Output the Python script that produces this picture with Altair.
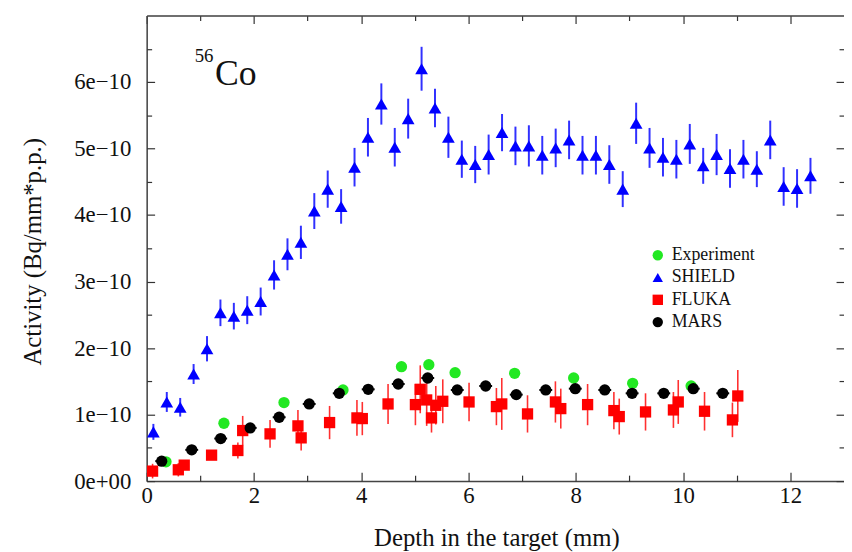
import altair as alt
import pandas as pd

SCALE = 1e-10
FONT = "Liberation Serif"
TXT = "#111111"

# ---------------- data (activity values in units of 1e-10) ----------------
shield_x = [0.125, 0.375, 0.625, 0.875, 1.125, 1.375, 1.625, 1.875, 2.125, 2.375,
            2.625, 2.875, 3.125, 3.375, 3.625, 3.875, 4.125, 4.375, 4.625, 4.875,
            5.125, 5.375, 5.625, 5.875, 6.125, 6.375, 6.625, 6.875, 7.125, 7.375,
            7.625, 7.875, 8.125, 8.375, 8.625, 8.875, 9.125, 9.375, 9.625, 9.875,
            10.125, 10.375, 10.625, 10.875, 11.125, 11.375, 11.625, 11.875, 12.125, 12.375]
shield_y = [0.74, 1.19, 1.11, 1.61, 1.99, 2.53, 2.48, 2.57, 2.70, 3.10,
            3.41, 3.59, 4.06, 4.39, 4.13, 4.72, 5.17, 5.67, 5.02, 5.45,
            6.20, 5.61, 5.17, 4.84, 4.76, 4.91, 5.24, 5.04, 5.04, 4.90,
            5.01, 5.13, 4.90, 4.90, 4.76, 4.39, 5.38, 5.01, 4.87, 4.84,
            5.07, 4.74, 4.91, 4.70, 4.84, 4.69, 5.13, 4.43, 4.40, 4.59]
shield_err = [0.12, 0.15, 0.14, 0.15, 0.19, 0.20, 0.20, 0.21, 0.21, 0.22,
              0.24, 0.25, 0.27, 0.28, 0.26, 0.29, 0.29, 0.31, 0.29, 0.30,
              0.33, 0.29, 0.31, 0.28, 0.28, 0.30, 0.28, 0.29, 0.31, 0.29,
              0.29, 0.29, 0.29, 0.29, 0.29, 0.27, 0.31, 0.30, 0.29, 0.29,
              0.30, 0.27, 0.31, 0.29, 0.29, 0.27, 0.29, 0.29, 0.29, 0.27]

fluka_x = [0.11, 0.59, 0.70, 1.21, 1.70, 1.79, 2.30, 2.82, 2.88, 3.41,
           3.92, 4.02, 4.50, 5.01, 5.10, 5.22, 5.31, 5.39, 5.52, 6.01,
           6.52, 6.62, 7.10, 7.62, 7.72, 8.22, 8.71, 8.81, 9.30, 9.82,
           9.91, 10.40, 10.92, 11.02]
fluka_y = [0.15, 0.17, 0.24, 0.39, 0.46, 0.76, 0.71, 0.83, 0.65, 0.88,
           0.95, 0.94, 1.16, 1.15, 1.38, 1.22, 0.95, 1.14, 1.20, 1.19,
           1.12, 1.16, 1.01, 1.19, 1.09, 1.15, 1.06, 0.97, 1.04, 1.07,
           1.19, 1.05, 0.92, 1.28]
fluka_err = [0.11, 0.10, 0.06, 0.06, 0.12, 0.22, 0.21, 0.24, 0.19, 0.25,
             0.27, 0.25, 0.30, 0.31, 0.36, 0.39, 0.22, 0.29, 0.33, 0.29,
             0.28, 0.39, 0.28, 0.31, 0.30, 0.31, 0.28, 0.27, 0.28, 0.27,
             0.33, 0.29, 0.26, 0.39]

mars_x = [0.28, 0.84, 1.38, 1.93, 2.47, 3.03, 3.59, 4.13, 4.69, 5.24,
          5.79, 6.32, 6.89, 7.44, 7.99, 8.54, 9.05, 9.64, 10.19, 10.74]
mars_y = [0.30, 0.47, 0.64, 0.80, 0.96, 1.16, 1.32, 1.38, 1.46, 1.55,
          1.37, 1.43, 1.30, 1.37, 1.39, 1.37, 1.32, 1.32, 1.39, 1.32]
mars_xerr = [0.12] * len(mars_x)

exp_x = [0.36, 1.44, 2.56, 3.66, 4.75, 5.26, 5.75, 6.86, 7.96, 9.06, 10.15]
exp_y = [0.29, 0.87, 1.18, 1.37, 1.72, 1.75, 1.63, 1.62, 1.55, 1.47, 1.43]

series_names = ["Experiment", "SHIELD", "FLUKA", "MARS"]
series_colors = ["#22e822", "#0000ff", "#ff0000", "#000000"]
series_shapes = ["circle", "triangle-up", "square", "circle"]

x_major = [0, 2, 4, 6, 8, 10, 12]
x_minor = [1, 3, 5, 7, 9, 11]
y_major_u = [0, 1, 2, 3, 4, 5, 6]
y_minor_u = [0.5, 1.5, 2.5, 3.5, 4.5, 5.5, 6.5]
y_labels = ["0e+00", "1e\u221210", "2e\u221210", "3e\u221210", "4e\u221210", "5e\u221210", "6e\u221210"]

# ---------------- tables ----------------
shield = pd.DataFrame({"series": "SHIELD", "x": shield_x,
                       "y": [v * SCALE for v in shield_y],
                       "lo": [(v - e) * SCALE for v, e in zip(shield_y, shield_err)],
                       "hi": [(v + e) * SCALE for v, e in zip(shield_y, shield_err)]})
fluka = pd.DataFrame({"series": "FLUKA", "x": fluka_x,
                      "y": [v * SCALE for v in fluka_y],
                      "lo": [(v - e) * SCALE for v, e in zip(fluka_y, fluka_err)],
                      "hi": [(v + e) * SCALE for v, e in zip(fluka_y, fluka_err)]})
mars = pd.DataFrame({"series": "MARS", "x": mars_x,
                     "y": [v * SCALE for v in mars_y],
                     "xlo": [a - e for a, e in zip(mars_x, mars_xerr)],
                     "xhi": [a + e for a, e in zip(mars_x, mars_xerr)]})
exp = pd.DataFrame({"series": "Experiment", "x": exp_x, "y": [v * SCALE for v in exp_y]})

y_major = [v * SCALE for v in y_major_u]
y_minor = [v * SCALE for v in y_minor_u]

xs = alt.Scale(domain=[0, 13], nice=False, zero=False)
ys = alt.Scale(domain=[0, 7 * SCALE], nice=False, zero=False)
cscale = alt.Scale(domain=series_names, range=series_colors)
sscale = alt.Scale(domain=series_names, range=series_shapes)

label_expr = "[" + ",".join("'%s'" % s for s in y_labels) + "][round(datum.value*1e10)]"

FRAME = "#444444"

ax_x_main = alt.Axis(orient="bottom", values=x_major, ticks=False, tickSize=0, domain=True,
                     domainColor=FRAME, domainWidth=1.5, grid=False, labelFont=FONT,
                     labelFontSize=23, labelColor=TXT, labelPadding=4, labelFlush=False,
                     title="Depth in the target (mm)", titleFont=FONT, titleFontSize=25,
                     titleFontWeight="normal", titleColor=TXT, titleX=353, titleY=57,
                     titleBaseline="middle", titleAlign="center")
ax_y_main = alt.Axis(orient="left", values=y_major, labelExpr=label_expr, ticks=False,
                     tickSize=0, domain=True, domainColor=FRAME, domainWidth=1.5, grid=False,
                     labelFont=FONT, labelFontSize=23, labelColor=TXT, labelPadding=16,
                     title="Activity (Bq/mm*p.p.)", titleFont=FONT, titleFontSize=25,
                     titleFontWeight="normal", titleColor=TXT, titleX=-115, titleY=238,
                     titleAngle=270, titleBaseline="middle", titleAlign="center")


def tick_axis(orient, values, size):
    return alt.Axis(orient=orient, values=values, labels=False, ticks=True, tickSize=size,
                    offset=-size, domain=False, grid=False, title=None,
                    tickColor="#333333", tickWidth=1.2)


ax_top_frame = alt.Axis(orient="top", labels=False, ticks=False, domain=True,
                        domainColor=FRAME, domainWidth=1.5, grid=False, title=None)

legend = alt.Legend(orient="none", legendX=507, legendY=233, title=None, labelFont=FONT,
                    labelFontSize=18, labelColor=TXT, symbolSize=110, symbolStrokeWidth=0,
                    rowPadding=4.5, labelOffset=5, padding=0)

# ---------------- layers ----------------
shield_err_l = alt.Chart(shield).mark_rule(color="#3030ff", strokeWidth=2).encode(
    x=alt.X("x:Q", scale=xs, axis=ax_x_main),
    y=alt.Y("lo:Q", scale=ys, axis=ax_y_main),
    y2="hi:Q")

fluka_err_l = alt.Chart(fluka).mark_rule(color="#ff3030", strokeWidth=1.6).encode(
    x=alt.X("x:Q", scale=xs, axis=tick_axis("bottom", x_major, 9)),
    y=alt.Y("lo:Q", scale=ys, axis=tick_axis("left", y_major, 8)),
    y2="hi:Q")

mars_h_l = alt.Chart(mars).mark_rule(color="#000000", strokeWidth=2).encode(
    x=alt.X("xlo:Q", scale=xs, axis=tick_axis("bottom", x_minor, 6)),
    x2="xhi:Q",
    y=alt.Y("y:Q", scale=ys, axis=tick_axis("left", y_minor, 5)))


def points(df, size, xaxis, yaxis):
    return alt.Chart(df).mark_point(filled=True, size=size, opacity=1).encode(
        x=alt.X("x:Q", scale=xs, axis=xaxis),
        y=alt.Y("y:Q", scale=ys, axis=yaxis),
        color=alt.Color("series:N", scale=cscale, legend=legend),
        shape=alt.Shape("series:N", scale=sscale, legend=legend))


exp_l = points(exp, 130, tick_axis("top", x_major, 8), tick_axis("right", y_major, 8))
shield_l = points(shield, 165, tick_axis("top", x_minor, 5), tick_axis("right", y_minor, 5))
fluka_l = points(fluka, 130, ax_top_frame, None)
mars_l = points(mars, 130, None, None)

t56 = alt.Chart(pd.DataFrame({"t": ["56"]})).mark_text(
    font=FONT, fontSize=19, align="left", baseline="alphabetic", color=TXT).encode(
    text="t:N", x=alt.value(48.5), y=alt.value(47))
tco = alt.Chart(pd.DataFrame({"t": ["Co"]})).mark_text(
    font=FONT, fontSize=36, align="left", baseline="alphabetic", color=TXT).encode(
    text="t:N", x=alt.value(69), y=alt.value(70.5))

chart = alt.layer(
    shield_err_l, fluka_err_l, mars_h_l, exp_l, shield_l, fluka_l, mars_l, t56, tco
).resolve_axis(x="independent", y="independent").properties(
    width=704, height=470,
    autosize=alt.AutoSizeParams(type="none"),
    padding={"left": 140, "top": 5, "right": 0, "bottom": 72},
).configure_view(strokeWidth=0).configure(background="white")

chart.save("out.html", embed_options={"renderer": "svg", "actions": False})
